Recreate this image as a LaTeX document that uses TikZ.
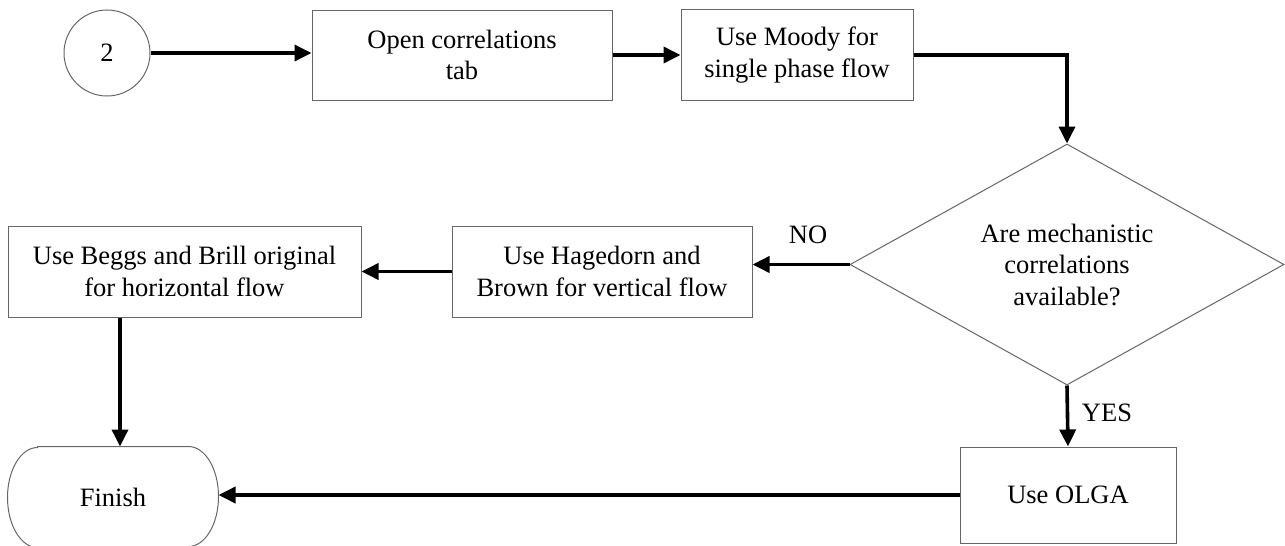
\documentclass[tikz,border=0pt]{standalone}
\usepackage{fontspec}
\setmainfont{Liberation Serif}
\usetikzlibrary{arrows.meta,shapes.geometric,calc}

\tikzset{
  box/.style={draw=black!60, line width=1pt, rectangle, align=center,
    font=\fontsize{26.5}{31.5}\selectfont, inner sep=0pt},
  flow/.style={line width=3.6pt, -{Triangle[length=17pt,width=16pt]}},
  lbl/.style={font=\fontsize{26.5}{31.5}\selectfont, inner sep=0pt, align=center},
}

\begin{document}
\begin{tikzpicture}[x=1pt,y=-1pt]
\useasboundingbox (0,0) rectangle (1285,546);

% process nodes
\node[box, circle, minimum size=86pt] (start) at (107,53) {2};
\node[box, minimum width=300pt, minimum height=90pt] (open) at (462,55) {Open correlations\\tab};
\node[box, minimum width=232pt, minimum height=91pt] (moody) at (797,55) {Use Moody for\\single phase flow};
\node[box, diamond, minimum width=434pt, minimum height=241pt] (dec) at (1067,264.5) {};
\node[lbl] (dectext) at (dec.center) {Are mechanistic\\correlations\\available?};
\node[box, minimum width=300pt, minimum height=91pt] (hag) at (602,271.5) {Use Hagedorn and\\Brown for vertical flow};
\node[box, minimum width=353pt, minimum height=91pt] (beggs) at (184.5,271.5) {Use Beggs and Brill original\\for horizontal flow};
\node[box, minimum width=216pt, minimum height=96pt] (olga) at (1068,495) {Use OLGA};

% terminal with rounded ends
\node[box, draw=none, minimum width=210pt, minimum height=100pt] (finish) at (113,497) {Finish};
\draw[black!60, line width=1pt]
  ($(finish.north west)+(30,0)$) -- ($(finish.north east)+(-30,0)$)
  arc[start angle=90, end angle=-90, x radius=30, y radius=-50]
  -- ($(finish.south west)+(30,0)$)
  arc[start angle=270, end angle=90, x radius=30, y radius=-50] -- cycle;

% connectors
\draw[flow] (start) -- (open.west |- start);
\draw[flow] (open.east) -- (moody.west);
\draw[flow] (moody.east) -| (dec.north);
\draw[flow] (dec.west) -- (dec.west -| hag.east);
\draw[flow] (hag.west) -- (beggs.east);
\draw[flow] ([xshift=7pt]beggs.south -| finish.north) -- ([xshift=7pt]finish.north);
\draw[flow] (dec.south) -- (olga.north);
\draw[flow] (olga.west) -- (olga.west -| finish.east);

% branch labels
\node[lbl] (no) at (808,235) {NO};
\node[lbl] (yes) at (1107,413) {YES};
\end{tikzpicture}
\end{document}
